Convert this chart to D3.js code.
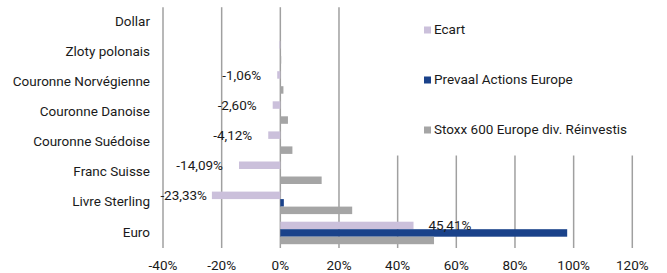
<!DOCTYPE html>
<html>
<head>
<meta charset="utf-8">
<title>Ecart par devise</title>
<style>
body { margin: 0; background: #fff; }
text { font-family: "Liberation Sans Narrow", "Roboto", sans-serif; fill: #1a1a1a; }
.cat { font-size: 13.5px; text-anchor: end; dominant-baseline: middle; }
.tick-label { font-size: 13.5px; text-anchor: middle; dominant-baseline: middle; }
.val { font-size: 13.5px; dominant-baseline: middle; }
.leg { font-size: 13.5px; dominant-baseline: middle; }
line.grid { stroke: #a0a0a0; stroke-width: 1.5px; }
</style>
</head>
<body>
<svg id="chart" width="667" height="273"></svg>
<script src="https://d3js.org/d3.v7.min.js"></script>
<script>
var categories = ["Dollar", "Zloty polonais", "Couronne Norvégienne", "Couronne Danoise",
                  "Couronne Suédoise", "Franc Suisse", "Livre Sterling", "Euro"];
var ecart   = [0, -0.3, -1.06, -2.60, -4.12, -14.09, -23.33, 45.41];
var prevaal = [0, 0, 0, 0, 0, 0, 1.2, 97.8];
var stoxx   = [0, 0.3, 1.06, 2.60, 4.12, 14.09, 24.5, 52.4];
var ecartLabels = ["", "", "-1,06%", "-2,60%", "-4,12%", "-14,09%", "-23,33%", "45,41%"];
var ticks = [-40, -20, 0, 20, 40, 60, 80, 100, 120];
var seriesNames = ["Ecart", "Prevaal Actions Europe", "Stoxx 600 Europe div. Réinvestis"];
var seriesColors = ["#cbc0db", "#1a428a", "#a5a5a5"];

var svg = d3.select("#chart");

var x = d3.scaleLinear().domain([-40, 120]).range([163, 632.3]);
var y = d3.scaleBand().domain(categories).range([7.2, 248]).padding(0);
var sub = d3.scaleBand().domain([0, 1, 2]).range([3.8, y.bandwidth() - 3.8]).padding(0);

// gridlines
svg.append("g").selectAll("line").data(ticks).join("line")
  .attr("class", "grid")
  .attr("x1", function (d) { return x(d); })
  .attr("x2", function (d) { return x(d); })
  .attr("y1", 7.2).attr("y2", 248);

// legend box hides the gridlines behind it
svg.append("rect").attr("x", 352).attr("y", 0).attr("width", 315).attr("height", 155.5).attr("fill", "#fff");

// bars
var series = [ecart, prevaal, stoxx];
series.forEach(function (vals, si) {
  svg.append("g").selectAll("rect").data(vals).join("rect")
    .attr("x", function (d) { return x(Math.min(0, d)); })
    .attr("width", function (d) { return Math.abs(x(d) - x(0)); })
    .attr("y", function (d, i) { return y(categories[i]) + sub(si); })
    .attr("height", sub.bandwidth())
    .attr("fill", seriesColors[si]);
});

// value labels for Ecart
svg.append("g").selectAll("text").data(ecart).join("text")
  .attr("class", "val")
  .text(function (d, i) { return ecartLabels[i]; })
  .attr("x", function (d) {
    if (d >= 0) return x(d) + 15;
    return Math.max(x(d) - 16, 207);
  })
  .attr("text-anchor", function (d) { return d >= 0 ? "start" : "end"; })
  .attr("y", function (d, i) { return y(categories[i]) + sub(0) + sub.bandwidth() / 2 + 1; });

// category labels
svg.append("g").selectAll("text").data(categories).join("text")
  .attr("class", "cat")
  .attr("x", 150)
  .attr("y", function (d) { return y(d) + y.bandwidth() / 2; })
  .text(function (d) { return d; });

// x tick labels
svg.append("g").selectAll("text").data(ticks).join("text")
  .attr("class", "tick-label")
  .attr("x", function (d) { return x(d); })
  .attr("y", 266)
  .text(function (d) { return d + "%"; });

// legend
var leg = svg.append("g").selectAll("g").data(seriesNames).join("g")
  .attr("transform", function (d, i) { return "translate(424," + (30 + i * 50) + ")"; });
leg.append("rect").attr("x", 0).attr("y", -3.5).attr("width", 7).attr("height", 7)
  .attr("fill", function (d, i) { return seriesColors[i]; });
leg.append("text").attr("class", "leg").attr("x", 10).attr("y", 0).text(function (d) { return d; });
</script>
</body>
</html>
